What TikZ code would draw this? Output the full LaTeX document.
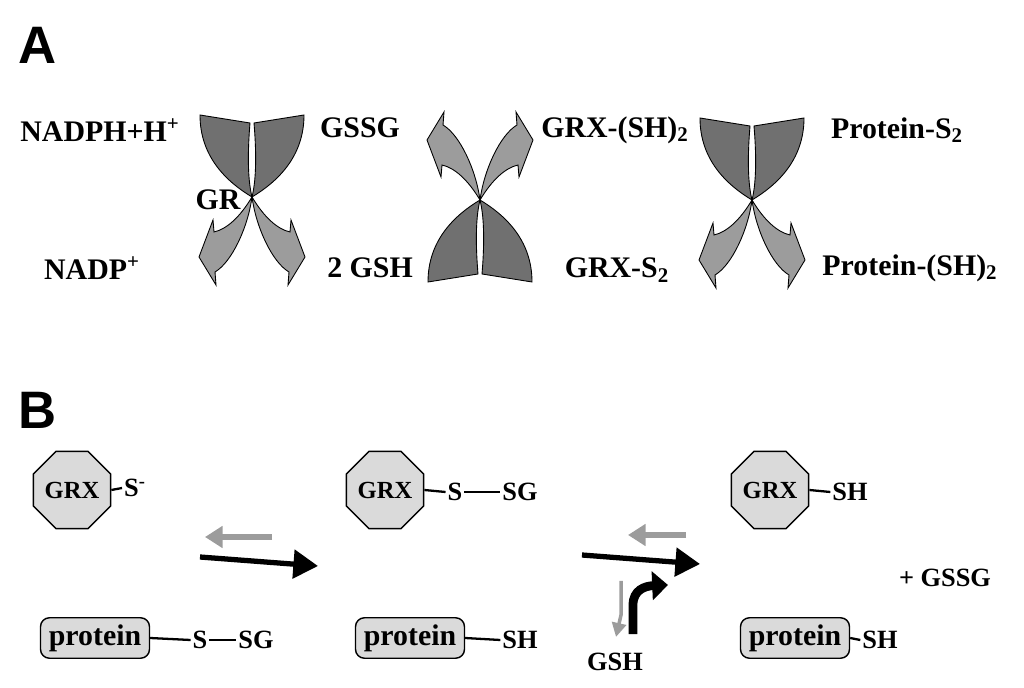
\documentclass[tikz,border=0pt]{standalone}
\usepackage{fontspec}
\setmainfont{Liberation Serif}
\newfontfamily\sansf{Liberation Sans}
\usetikzlibrary{shapes.geometric,arrows.meta}
\definecolor{darkg}{HTML}{707070}
\definecolor{lightg}{HTML}{9C9C9C}
\definecolor{boxg}{HTML}{DADADA}
\tikzset{
 lbl/.style={font=\fontsize{17}{20}\selectfont\bfseries, inner sep=0pt},
 lblb/.style={font=\fontsize{15}{18}\selectfont\bfseries, inner sep=1pt},
 panel/.style={font=\sansf\fontsize{30}{32}\selectfont\bfseries, inner sep=0pt},
 oct/.style={regular polygon, regular polygon sides=8, draw, fill=boxg, minimum size=33pt, inner sep=0pt, font=\fontsize{14}{16}\selectfont\bfseries, line width=0.8pt},
 prot/.style={draw, fill=boxg, rounded corners=5pt, minimum width=62pt, minimum height=23pt, inner sep=1pt, font=\fontsize{17}{20}\selectfont\bfseries, line width=0.8pt},
 bond/.style={line width=1.3pt},
 arm/.style={draw=black, line width=0.5pt},
}
\newcommand{\sub}[1]{\textsubscript{#1}}
\newcommand{\sups}[1]{\textsuperscript{#1}}
\newcommand{\crossX}[2]{% center, yscale
 \begin{scope}[shift={#1}, yscale=#2]
  \path[arm, fill=darkg] (-52,-82) .. controls (-52,-40) and (-25,-15) .. (0,0) .. controls (-5,-20) and (-4,-50) .. (-2,-74) -- cycle;
  \path[arm, fill=darkg] (52,-82) .. controls (52,-40) and (25,-15) .. (0,0) .. controls (5,-20) and (4,-50) .. (2,-74) -- cycle;
  \path[arm, fill=lightg] (0,0) .. controls (-12,20) and (-25,32) .. (-38,35) -- (-39,23) -- (-53,60) -- (-36,88) -- (-37,75) .. controls (-20,65) and (-4,30) .. (0,0) -- cycle;
  \path[arm, fill=lightg] (0,0) .. controls (12,20) and (25,32) .. (38,35) -- (39,23) -- (53,60) -- (36,88) -- (37,75) .. controls (20,65) and (4,30) .. (0,0) -- cycle;
 \end{scope}}
\begin{document}
\begin{tikzpicture}[x=0.02cm,y=-0.02cm]
\useasboundingbox (0,0) rectangle (1024,688);
% Panel A
\node[panel] (A) at (38,45) {A};
\crossX{(252,197)}{1}
\crossX{(480,200)}{-1}
\crossX{(752,200)}{1}
\node[lbl] (nadph) at (100,130) {NADPH+H\sups{+}};
\node[lbl] (gssg) at (360,128) {GSSG};
\node[lbl] (gr) at (218,200) {GR};
\node[lbl] (nadp) at (92,268) {NADP\sups{+}};
\node[lbl] (gsh2) at (370,268) {2 GSH};
\node[lbl] (grxsh) at (615,130) {GRX-(SH)\sub{2}};
\node[lbl] (grxs) at (617,270) {GRX-S\sub{2}};
\node[lbl] (ps) at (897,130) {Protein-S\sub{2}};
\node[lbl] (psh) at (910,268) {Protein-(SH)\sub{2}};
% Panel B
\node[panel] (B) at (38,410) {B};
\node[oct] (g1) at (72,490) {GRX};
\node[lblb] (s1) at (135,488) {S\sups{-}};
\draw[bond] (g1.east) -- (s1.west);
\node[oct] (g2) at (385,490) {GRX};
\node[lblb] (s2) at (455,492) {S};
\node[lblb] (sg2) at (520,492) {SG};
\draw[bond] (g2.east) -- (s2.west);
\draw[bond] (s2.east) -- (sg2.west);
\node[oct] (g3) at (770,490) {GRX};
\node[lblb] (sh3) at (850,492) {SH};
\draw[bond] (g3.east) -- (sh3.west);
\node[prot] (p1) at (95,638) {protein};
\node[lblb] (ps1) at (200,640) {S};
\node[lblb] (psg1) at (256,640) {SG};
\draw[bond] (p1.east) -- (ps1.west);
\draw[bond] (ps1.east) -- (psg1.west);
\node[prot] (p2) at (410,638) {protein};
\node[lblb] (psh2) at (520,640) {SH};
\draw[bond] (p2.east) -- (psh2.west);
\node[prot] (p3) at (795,638) {protein};
\node[lblb] (psh3) at (880,640) {SH};
\draw[bond] (p3.east) -- (psh3.west);
\node[lblb] (plus) at (945,578) {+ GSSG};
\node[lblb] (gsh) at (615,662) {GSH};
% arrows
\coordinate (a1s) at (200,557); \coordinate (a1e) at (318,566);
\draw[line width=3pt, -{Triangle[length=14pt,width=16pt]}] (a1s) -- (a1e);
\coordinate (b1s) at (272,537); \coordinate (b1e) at (205,537);
\draw[lightg, line width=3pt, -{Triangle[length=10pt,width=12pt]}] (b1s) -- (b1e);
\coordinate (a2s) at (582,555); \coordinate (a2e) at (700,564);
\draw[line width=3pt, -{Triangle[length=14pt,width=16pt]}] (a2s) -- (a2e);
\coordinate (b2s) at (686,535); \coordinate (b2e) at (628,535);
\draw[lightg, line width=3pt, -{Triangle[length=10pt,width=12pt]}] (b2s) -- (b2e);
\coordinate (c1s) at (633,634); \coordinate (c1e) at (668,585);
\draw[line width=5pt, -{Triangle[length=9pt,width=16pt]}] (c1s) -- (633,605) .. controls (633,590) and (645,586) .. (c1e);
\coordinate (c2s) at (621,581); \coordinate (c2e) at (616,637);
\draw[lightg, line width=2pt, -{Triangle[length=8pt,width=8pt]}] (c2s) -- (621,615) -- (c2e);
\end{tikzpicture}
\end{document}
